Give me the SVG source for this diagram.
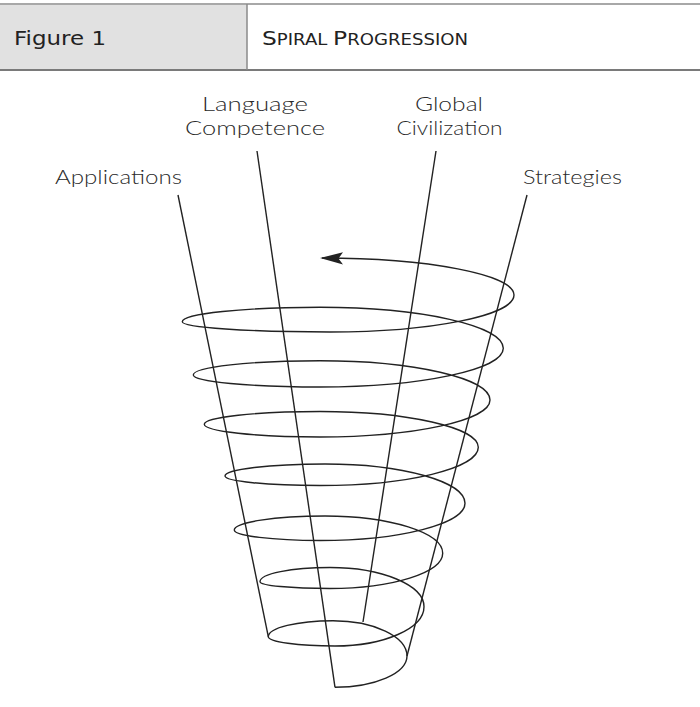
<svg xmlns="http://www.w3.org/2000/svg" width="700" height="707" viewBox="0 0 700 707">
<style>
.hdr{font-family:"DejaVu Sans","Liberation Sans",sans-serif;fill:#222}
.lbl{font-family:Lato,"DejaVu Sans","Liberation Sans",sans-serif;font-weight:300;font-size:20px;fill:#2a2a2a}
.ln{fill:none;stroke:#222;stroke-width:1.4}
</style>
<rect width="700" height="707" fill="#fff"/>
<g id="header">
<rect x="0" y="4" width="247" height="66" fill="#e1e1e1"/>
<line x1="0" y1="4" x2="700" y2="4" stroke="#a8a8a8" stroke-width="2"/>
<line x1="0" y1="70" x2="700" y2="70" stroke="#7a7a7a" stroke-width="2"/>
<line x1="247" y1="4" x2="247" y2="70" stroke="#8a8a8a" stroke-width="1.5"/>
<text class="hdr" x="14" y="45" font-size="20" textLength="92" lengthAdjust="spacingAndGlyphs">Figure 1</text>
<text class="hdr" x="262" y="45" font-size="20" textLength="206" lengthAdjust="spacingAndGlyphs">S<tspan font-size="15.5">PIRAL </tspan>P<tspan font-size="15.5">ROGRESSION</tspan></text>
</g>
<g id="node-language-competence">
<text class="lbl" x="255" y="110.5" text-anchor="middle" textLength="106" lengthAdjust="spacingAndGlyphs">Language</text>
<text class="lbl" x="255" y="135" text-anchor="middle" textLength="140" lengthAdjust="spacingAndGlyphs">Competence</text>
</g>
<g id="node-global-civilization">
<text class="lbl" x="449" y="110.5" text-anchor="middle" textLength="68" lengthAdjust="spacingAndGlyphs">Global</text>
<text class="lbl" x="449.5" y="135" text-anchor="middle" textLength="106" lengthAdjust="spacingAndGlyphs">Civilization</text>
</g>
<g id="node-applications">
<text class="lbl" x="55" y="183.5" textLength="127" lengthAdjust="spacingAndGlyphs">Applications</text>
</g>
<g id="node-strategies">
<text class="lbl" x="523" y="183.5" textLength="99" lengthAdjust="spacingAndGlyphs">Strategies</text>
</g>
<g id="connectors">
<line class="ln" x1="178" y1="195" x2="268.3" y2="636.7"/>
<line class="ln" x1="257" y1="151" x2="335" y2="687.3"/>
<line class="ln" x1="436" y1="151" x2="363" y2="622"/>
<line class="ln" x1="527" y1="195" x2="407" y2="656"/>
<path class="ln" d="M322,258 C428,258 514,274.6 514,295 C514,315.4 431.6,332 330,332 C248.5,332 182.3,327.4 182.3,321.7 C182.3,313.8 244,307.3 320,307.3 C421.2,307.3 503.3,325.7 503.3,348.3 C503.3,369.7 421.2,387 320,387 C250.1,387 193.3,381.6 193.3,375 C193.3,367.1 250.1,360.7 320,360.7 C413.8,360.7 490,378.3 490,400 C490,420.4 413.8,437 320,437 C256.1,437 204.3,431.3 204.3,424.3 C204.3,417.2 256.1,411.5 320,411.5 C407.4,411.5 478.3,427.5 478.3,447.3 C478.3,468.4 407.4,485.5 320,485.5 C267.6,485.5 225,481.2 225,476 C225,469.4 269.8,464 325,464 C402.3,464 465,481.6 465,503.3 C465,523.8 400,540.5 320,540.5 C272.7,540.5 234.3,535.8 234.3,530 C234.3,522.3 274.9,516 325,516 C390,516 442.7,532.7 442.7,553.3 C442.7,572.7 392.2,588.5 330,588.5 C291.4,588.5 260,585.5 260,581.7 C260,573.9 291.4,567.5 330,567.5 C381.9,567.5 424,585.1 424,606.7 C424,628.4 384.1,646 335,646 C298.2,646 268.3,641.8 268.3,636.7 C268.3,627.9 297.3,620.7 333,620.7 C373.8,620.7 407,636.5 407,656 C407,673.3 374.7,687.3 335,687.3"/>
<polygon points="320,258 343,252.3 338.5,258.4 343,264.6" fill="#222"/>
</g>
</svg>
